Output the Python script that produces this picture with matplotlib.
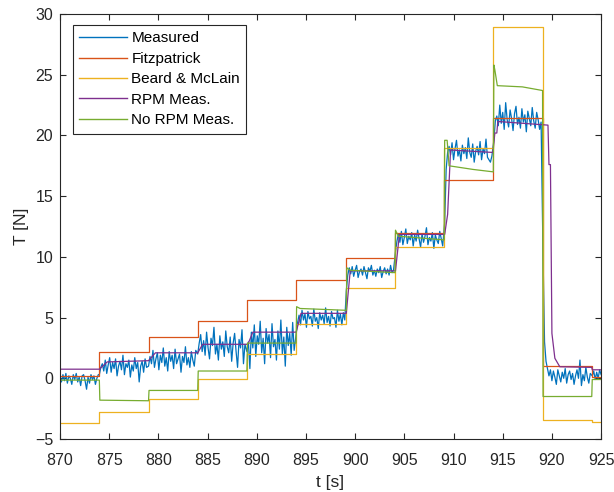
import numpy as np
import matplotlib
matplotlib.use("Agg")
import matplotlib.pyplot as plt

plt.rcParams['font.family'] = ['Liberation Sans', 'DejaVu Sans']

# ---------------- data ----------------
# Measured thrust, sampled every 0.15 s, one list per segment (start time, values)
meas_dt = 0.15
meas_starts = [870.0, 874.0, 879.0, 884.0, 889.0, 894.0, 899.1, 904.1, 909.1, 914.1, 919.1, 924.1]
meas_A = [0.1,-0.3,0.3,-0.2,0.4,-0.4,0.2,0.0,-0.5,0.3,-0.1,0.4,-0.3,0.1,-0.6,0.2,0.3,-0.2,-0.9,0.1,
          -0.4,0.3,-0.1,0.2,-0.5,0.0,0.3]
meas_B = [0.3,0.9,1.2,0.6,1.5,0.4,1.1,1.7,0.5,1.3,0.8,1.6,0.2,1.0,1.4,0.7,1.9,0.3,1.2,0.9,
          1.5,0.1,1.1,0.6,1.7,0.8,1.3,-0.3,1.0,1.4,0.5,1.6,0.9]
meas_C = [1.0,1.8,1.2,2.3,0.9,1.6,2.1,0.7,1.9,1.3,2.5,1.0,1.7,0.6,2.2,1.4,1.9,0.8,2.4,1.2,
          1.6,2.0,0.5,1.8,1.3,2.6,1.1,1.7,0.9,2.2,1.5,1.0,2.3]
meas_D = [2.0,2.9,3.6,2.2,3.1,1.9,3.8,2.5,1.6,3.3,2.7,4.2,2.0,2.8,1.5,3.5,2.4,3.0,1.8,3.9,
          2.6,2.1,3.4,1.4,2.9,3.7,2.2,0.9,3.2,2.5,4.0,1.2,2.8]
meas_E = [2.2,3.0,0.8,3.8,2.5,4.4,1.8,3.5,2.8,4.7,2.1,3.3,1.2,4.1,2.9,3.6,1.7,4.5,2.6,3.2,
          1.5,3.9,2.4,4.8,2.0,3.4,1.0,4.2,2.7,3.7,1.9,4.6,2.3]
meas_F = [3.6,4.6,5.2,4.4,5.6,4.8,5.3,4.2,5.5,4.9,5.1,4.3,5.7,4.7,5.0,4.1,5.4,4.8,5.2,4.5,
          5.8,4.6,5.1,4.3,5.5,4.9,5.0,4.2,5.6,4.7,5.3,4.4,5.4,4.8]
meas_G = [7.2,8.5,9.1,8.6,9.2,8.4,8.9,9.3,8.3,8.8,9.0,8.5,9.2,8.7,8.2,9.1,8.8,9.3,8.5,8.9,
          8.4,9.0,8.7,9.2,8.3,8.8,9.1,8.6,9.0,8.5,9.3,8.7,8.9]
meas_H = [10.4,11.3,11.9,11.2,12.1,11.0,11.6,12.3,11.1,11.7,11.4,12.0,10.9,11.8,11.3,12.2,11.5,10.8,11.9,11.2,
          11.7,12.4,11.0,11.6,11.3,12.0,10.7,11.8,11.4,11.1,12.1,11.5,10.9]
meas_I = [12.8,17.2,18.6,19.1,18.4,19.4,18.0,18.9,19.6,18.3,18.8,17.9,19.2,18.5,19.0,18.1,19.8,18.6,18.2,19.3,
          17.8,18.7,19.1,18.4,19.5,18.0,18.9,18.5,19.7,18.2,18.0,17.8,18.3]
meas_J = [19.6,21.2,21.6,20.8,22.5,21.0,21.9,20.5,22.7,21.3,20.7,22.1,21.4,20.4,21.8,22.4,20.9,21.5,20.6,22.2,
          21.1,21.7,20.3,22.0,21.4,20.8,22.3,21.2,20.6,21.9,21.3,20.5,21.1]
meas_K = [10.0,3.0,1.4,0.8,0.2,0.7,-0.2,0.6,0.1,-0.5,0.7,0.2,-0.3,0.5,0.0,0.8,-0.4,0.3,0.6,-0.1,
          0.4,-0.5,0.2,0.7,0.0,1.5,-0.6,0.3,-0.2,0.9,0.1,-0.4,0.4]
meas_L = [0.2,0.6,-0.1,0.5,0.0,0.7,0.3]
meas_segments = [meas_A, meas_B, meas_C, meas_D, meas_E, meas_F,
                 meas_G, meas_H, meas_I, meas_J, meas_K, meas_L]

# Step-type models: segment edges and levels
fitz_edges = [870, 874, 879, 884, 889, 894, 899.1, 904.05, 909.05, 914.05, 919.05, 924.05, 925]
fitz_levels = [0.15, 2.15, 3.4, 4.75, 6.45, 8.1, 9.9, 12.0, 16.35, 21.4, 1.0, 0.1]
beard_edges = [870, 874, 879, 884, 889, 894, 899.1, 904.05, 909.05, 914.05, 919.05, 924.05, 925]
beard_levels = [-3.65, -2.8, -1.68, -0.02, 2.0, 4.45, 7.42, 10.82, 18.97, 28.9, -3.45, -3.6]

# Dynamic models: breakpoints
rpm_t = [870, 874.0, 874.8, 879.0, 879.7, 884.0, 884.5, 889.1, 889.6, 894.0, 894.5, 899.1, 899.5,
         904.1, 904.5, 909.1, 909.4, 909.7, 914.0, 914.2, 914.4, 914.5, 919.6, 919.7, 919.85,
         920.0, 920.3, 920.8, 924.05, 924.1, 925]
rpm_v = [0.75, 0.75, 1.35, 1.45, 2.1, 2.1, 2.8, 2.8, 3.8, 3.8, 5.35, 5.35, 8.85,
         8.85, 11.85, 11.85, 13.5, 18.8, 18.6, 20.2, 20.2, 21.15, 20.85, 17.6, 17.6,
         3.7, 1.65, 0.95, 0.9, 0.7, 0.7]
norpm_t = [870, 874, 874.05, 879, 879.05, 884, 884.05, 889, 889.05, 894, 894.05, 894.4, 899.1,
           899.15, 899.5, 904.05, 904.1, 904.4, 909.05, 909.1, 909.35, 909.55, 912.0, 914.05,
           914.1, 914.2, 914.45, 917.0, 919.05, 919.1, 924.05, 924.1, 925]
norpm_v = [-0.15, -0.15, -1.8, -1.85, -1.0, -1.0, 0.6, 0.6, 2.9, 2.9, 5.9, 5.75, 5.6,
           9.1, 8.9, 8.7, 12.2, 11.7, 11.4, 19.6, 19.6, 17.5, 17.2, 17.0,
           25.8, 25.4, 24.1, 24.0, 23.7, -1.5, -1.5, -0.1, -0.1]

labels = ['Measured', 'Fitzpatrick', 'Beard & McLain', 'RPM Meas.', 'No RPM Meas.']
colors = ['#0072BD', '#D95319', '#EDB120', '#7E2F8E', '#77AC30']

# ---------------- plot ----------------
fig = plt.figure(figsize=(6.14, 4.92), dpi=100)
ax = fig.add_axes([0.0977, 0.1077, 0.8813, 0.8638])

mt = np.concatenate([s + meas_dt * np.arange(len(v)) for s, v in zip(meas_starts, meas_segments)])
mv = np.concatenate([np.array(v, float) for v in meas_segments])
ax.plot(mt, mv, color=colors[0], lw=0.9, label=labels[0])

def stair_xy(edges, levels):
    x = np.asarray(edges, float)
    y = np.append(levels, levels[-1])
    return x, y

x, y = stair_xy(fitz_edges, fitz_levels)
ax.plot(x, y, drawstyle='steps-post', color=colors[1], lw=0.9, label=labels[1])
x, y = stair_xy(beard_edges, beard_levels)
ax.plot(x, y, drawstyle='steps-post', color=colors[2], lw=0.9, label=labels[2])
ax.plot(rpm_t, rpm_v, color=colors[3], lw=0.9, label=labels[3])
ax.plot(norpm_t, norpm_v, color=colors[4], lw=0.9, label=labels[4])

ax.set_xlim(870, 925)
ax.set_ylim(-5, 30)
ax.set_xticks(np.arange(870, 926, 5))
ax.set_yticks(np.arange(-5, 31, 5))
edge = '#262626'
for sp in ax.spines.values():
    sp.set_color(edge)
    sp.set_linewidth(0.8)
ax.tick_params(direction='in', top=True, right=True, length=4, width=0.8,
               colors=edge, labelsize=11.5)
ax.tick_params(axis='x', pad=10)
ax.tick_params(axis='y', pad=5)
ax.set_xlabel('t [s]', fontsize=12.5, color=edge, labelpad=5)
ax.set_ylabel('T [N]', fontsize=12.5, color=edge, labelpad=4)

leg = ax.legend(loc='upper left', bbox_to_anchor=(0.024, 0.974), borderaxespad=0,
                fontsize=11, handlelength=3.1, handletextpad=0.3, labelspacing=0.42,
                borderpad=0.42, fancybox=False, framealpha=1, edgecolor=edge)
leg.get_frame().set_linewidth(0.8)
for line in leg.get_lines():
    line.set_linewidth(1.0)

fig.savefig('out.png', dpi=100)
